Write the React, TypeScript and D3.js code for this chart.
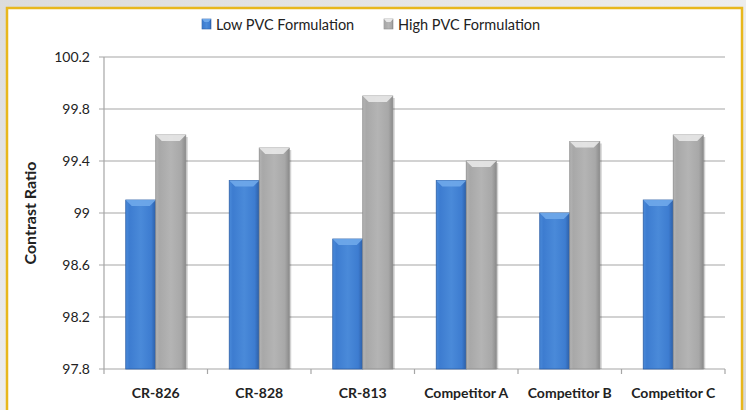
import * as d3 from 'd3'

const categories = ['CR-826', 'CR-828', 'CR-813', 'Competitor A', 'Competitor B', 'Competitor C']
const seriesNames = ['Low PVC Formulation', 'High PVC Formulation']
const lowPvc = [99.1, 99.25, 98.8, 99.25, 99.0, 99.1]
const highPvc = [99.6, 99.5, 99.9, 99.4, 99.55, 99.6]
const yTicks = [97.8, 98.2, 98.6, 99, 99.4, 99.8, 100.2]

const W = 746
const H = 410
const margin = {top: 57, right: 21, bottom: 41, left: 104}
const font = 'Lato, "Open Sans", sans-serif'

const palette = [
  {id: 'blue', dark: '#2c5ea6', mid: '#3d7cd0', light: '#4a8ad9', top: '#6fa8ea'},
  {id: 'gray', dark: '#8c8c8c', mid: '#a8a8a8', light: '#b4b4b4', top: '#e8e8e8'},
]

export default function App() {
  const innerW = W - margin.left - margin.right
  const innerH = H - margin.top - margin.bottom
  const x0 = d3.scaleBand().domain(categories).range([0, innerW]).padding(0)
  const x1 = d3.scaleBand().domain(seriesNames).range([0, x0.bandwidth()]).paddingInner(0).paddingOuter(0.725)
  const y = d3.scaleLinear().domain([97.8, 100.2]).range([innerH, 0])
  const values = [lowPvc, highPvc]
  const bw = x1.bandwidth()

  return (
    <svg width={W} height={H} style={{position: 'absolute', left: 0, top: 0}} fontFamily={font}>
      <defs>
        <linearGradient id="bg" x1="0" y1="0" x2="1" y2="1">
          <stop offset="0" stopColor="#dcdcdc" />
          <stop offset="0.5" stopColor="#ededed" />
          <stop offset="1" stopColor="#d8d8d8" />
        </linearGradient>
        {palette.map(p => (
          <linearGradient key={p.id} id={'g-' + p.id} x1="0" y1="0" x2="1" y2="0">
            <stop offset="0" stopColor={p.light} />
            <stop offset="0.12" stopColor={p.mid} />
            <stop offset="0.5" stopColor={p.light} />
            <stop offset="0.85" stopColor={p.mid} />
            <stop offset="1" stopColor={p.dark} />
          </linearGradient>
        ))}
      </defs>
      <rect width={W} height={H} fill="url(#bg)" />
      <rect x={7} y={8} width={735} height={H} fill="#ffffff" stroke="#e8b71c" strokeWidth={2.5} />

      {/* legend */}
      {seriesNames.map((s, i) => {
        const lx = i === 0 ? 202 : 384
        const p = palette[i]
        return (
          <g key={s} transform={`translate(${lx},19)`}>
            <rect width={9} height={10} fill={`url(#g-${p.id})`} stroke={p.dark} strokeWidth={0.6} />
            <polygon points="0,0 9,0 6.5,3 2.5,3" fill={p.top} />
            <text x={14} y={10.5} fontSize={14.5} fill="#222">
              {s}
            </text>
          </g>
        )
      })}

      <g transform={`translate(${margin.left},${margin.top})`}>
        {/* gridlines */}
        {yTicks.map(t => (
          <g key={t}>
            <line x1={-5} x2={innerW} y1={y(t)} y2={y(t)} stroke="#a6a6a6" strokeWidth={1.2} />
            <text x={-14} y={y(t)} dy="0.35em" textAnchor="end" fontSize={14} fill="#222">
              {d3.format('')(t)}
            </text>
          </g>
        ))}
        <line x1={0} x2={0} y1={0} y2={innerH} stroke="#a6a6a6" strokeWidth={1.2} />
        {categories.map((c, i) => (
          <line key={'t' + i} x1={x0(c)! + x0.bandwidth()} x2={x0(c)! + x0.bandwidth()} y1={innerH} y2={innerH + 5} stroke="#a6a6a6" strokeWidth={1.2} />
        ))}
        <line x1={0} x2={0} y1={innerH} y2={innerH + 5} stroke="#a6a6a6" strokeWidth={1.2} />

        {/* bars */}
        {categories.map((c, ci) => (
          <g key={c} transform={`translate(${x0(c)},0)`}>
            {seriesNames.map((s, si) => {
              const v = values[si][ci]
              const bx = x1(s)!
              const by = y(v)
              const bh = innerH - by
              const p = palette[si]
              return (
                <g key={s}>
                  <rect x={bx + 2} y={by + 2} width={bw} height={bh - 2} fill="#000" opacity={0.18} />
                  <rect x={bx} y={by} width={bw} height={bh} fill={`url(#g-${p.id})`} stroke={p.dark} strokeWidth={0.8} />
                  <polygon points={`${bx},${by} ${bx + bw},${by} ${bx + bw - 6},${by + 6} ${bx + 6},${by + 6}`} fill={p.top} opacity={0.9} />
                </g>
              )
            })}
            <text x={x0.bandwidth() / 2} y={innerH + 29} textAnchor="middle" fontSize={14} fontWeight="bold" fill="#222">
              {c}
            </text>
          </g>
        ))}

        <text transform={`translate(-68,${innerH / 2}) rotate(-90)`} textAnchor="middle" fontSize={16} fontWeight="bold" fill="#222">
          Contrast Ratio
        </text>
      </g>
    </svg>
  )
}
